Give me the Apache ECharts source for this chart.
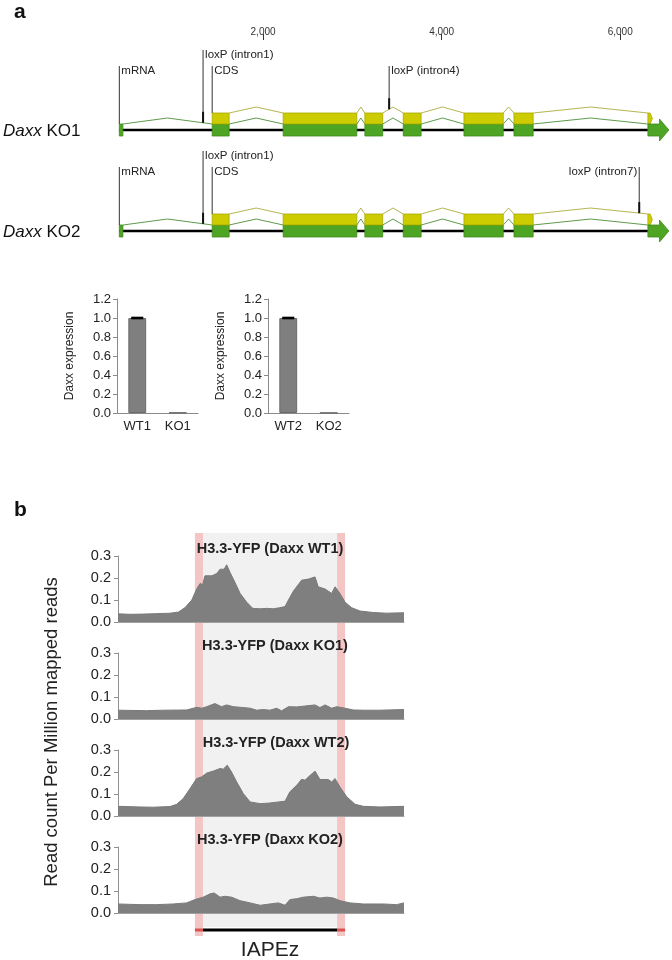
<!DOCTYPE html>
<html>
<head>
<meta charset="utf-8">
<title>Daxx KO</title>
<script src="https://cdn.jsdelivr.net/npm/echarts@6/dist/echarts.min.js"></script>
<style>
  html, body { margin: 0; padding: 0; background: #fff; }
  #main { width: 672px; height: 960px; }
</style>
</head>
<body>
<div id="main"></div>
<script>
// ---- panel a: gene model (bp) ----
var geneTicks = [2000, 4000, 6000];
var mrnaExons = [[390, 430], [1430, 1620], [2225, 3050], [3140, 3340], [3570, 3770], [4250, 4690], [4810, 5025]];
var cdsExons = [[1430, 1620], [2225, 3050], [3140, 3340], [3570, 3770], [4250, 4690], [4810, 5025]];
var mrnaArrow = [6310, 6440, 6545];
var cdsArrow = [6310, 6360];
var geneTracks = ['KO1', 'KO2'];
// [label, position bp, label row]
var ko1Markers = [['mRNA', 390, 1], ['loxP (intron1)', 1328, 0], ['CDS', 1430, 1], ['loxP (intron4)', 3412, 1]];
var ko2Markers = [['mRNA', 390, 1], ['loxP (intron1)', 1328, 0], ['CDS', 1430, 1], ['loxP (intron7)', 6213, 1]];

// ---- panel a: qPCR ----
var qpcrCats = [['WT1', 'KO1'], ['WT2', 'KO2']];
var qpcrValues = [[1.0, 0.004], [1.0, 0.002]];
var qpcrErrors = [[0.006, 0], [0.006, 0]];

// ---- panel b: H3.3-YFP profiles over IAPEz (position in bins 0-100, RPM) ----
var chipTitles = ['H3.3-YFP (Daxx WT1)', 'H3.3-YFP (Daxx KO1)', 'H3.3-YFP (Daxx WT2)', 'H3.3-YFP (Daxx KO2)'];
var wt1 = [[0,0.037],[4.2,0.035],[8.9,0.036],[13.5,0.038],[18.2,0.040],[21.1,0.045],[23.4,0.065],[25.8,0.100],[27.5,0.150],[28.7,0.175],[29.6,0.170],[30.4,0.210],[32.8,0.210],[34.5,0.220],[35.7,0.240],[37.1,0.240],[38.0,0.260],[39.2,0.225],[40.9,0.180],[42.7,0.130],[45.0,0.090],[47.1,0.062],[49.7,0.060],[52.0,0.062],[54.3,0.060],[56.6,0.065],[58.4,0.070],[59.6,0.100],[61.3,0.140],[64.2,0.190],[66.6,0.195],[68.9,0.205],[70.0,0.160],[72.4,0.150],[74.7,0.130],[75.9,0.160],[77.6,0.130],[79.4,0.090],[81.7,0.065],[84.6,0.050],[89.3,0.043],[93.9,0.040],[100,0.042]];
var ko1 = [[0,0.040],[4.2,0.039],[10.0,0.038],[15.9,0.040],[24.0,0.041],[26.3,0.049],[27.5,0.053],[29.3,0.049],[31.0,0.056],[33.9,0.070],[36.2,0.056],[38.0,0.064],[40.3,0.056],[43.8,0.052],[46.2,0.049],[48.5,0.040],[50.8,0.043],[53.1,0.040],[55.5,0.049],[57.2,0.037],[59.6,0.056],[62.5,0.055],[65.4,0.059],[68.9,0.064],[70.6,0.052],[72.4,0.064],[74.7,0.049],[76.5,0.056],[79.4,0.049],[82.3,0.041],[85.8,0.040],[91.6,0.040],[100,0.043]];
var wt2 = [[0,0.044],[7.7,0.041],[12.4,0.040],[18.2,0.043],[20.5,0.053],[22.8,0.079],[25.2,0.125],[27.5,0.170],[29.3,0.178],[31.0,0.195],[33.3,0.204],[35.7,0.216],[36.8,0.213],[38.2,0.231],[39.7,0.200],[41.5,0.155],[43.8,0.102],[46.2,0.064],[49.7,0.056],[53.1,0.059],[56.1,0.064],[58.4,0.067],[60.1,0.110],[62.5,0.140],[64.2,0.167],[65.4,0.163],[66.6,0.178],[68.9,0.204],[70.6,0.166],[73.5,0.166],[74.7,0.155],[75.9,0.170],[77.6,0.132],[80.0,0.087],[82.9,0.053],[85.8,0.044],[91.6,0.041],[100,0.044]];
var ko2 = [[0,0.041],[7.7,0.038],[13.5,0.038],[19.3,0.041],[24.0,0.046],[26.9,0.061],[29.8,0.072],[32.2,0.087],[33.6,0.091],[35.7,0.072],[37.4,0.076],[39.7,0.072],[42.7,0.056],[46.2,0.046],[49.7,0.035],[53.1,0.041],[56.1,0.046],[58.4,0.035],[60.1,0.061],[62.5,0.065],[64.8,0.072],[68.3,0.076],[70.6,0.068],[73.0,0.072],[75.3,0.068],[77.6,0.056],[81.1,0.046],[85.8,0.041],[92.8,0.041],[97.4,0.038],[100,0.046]];
var chipData = [wt1, ko1, wt2, ko2];
var ltrs = [[26.9, 29.7], [76.6, 79.4]];
var iapez = [29.7, 76.6];

var FONT = '"Liberation Sans", Arial, sans-serif';
var YELLOW = '#cccc00', YELLOW_LINE = '#b5b552';
var GREEN = '#4ea523', GREEN_LINE = '#5e9b4c';
var TRACK_OFF = 101;

function chevronY(list, endStart, base, depth, x) {
  var pts = list.concat([[endStart, endStart]]);
  for (var i = 0; i < pts.length - 1; i++) {
    var a = pts[i][1], b = pts[i + 1][0];
    if (x >= a && x <= b) {
      var m = (a + b) / 2, h = (b - a) / 2;
      return base - depth * (1 - Math.abs(x - m) / h);
    }
  }
  return base;
}

var chart = echarts.init(document.getElementById('main'));

// build gene series data
var exonData = [], intronData = [], markerData = [];
geneTracks.forEach(function (t, ti) {
  mrnaExons.forEach(function (e) { exonData.push([e[0], e[1], ti, 0]); });
  cdsExons.forEach(function (e) { exonData.push([e[0], e[1], ti, 1]); });
  var m = mrnaExons.concat([[mrnaArrow[0], mrnaArrow[0]]]);
  for (var i = 0; i < m.length - 1; i++) intronData.push([m[i][1], m[i + 1][0], ti, 0]);
  var c = cdsExons.concat([[cdsArrow[0], cdsArrow[0]]]);
  for (var j = 0; j < c.length - 1; j++) intronData.push([c[j][1], c[j + 1][0], ti, 1]);
  (ti === 0 ? ko1Markers : ko2Markers).forEach(function (mk) {
    markerData.push({ value: [mk[1], ti, mk[2]], name: mk[0] });
  });
});

var grids = [
  { left: 84.5, right: 0, top: 0, height: 250 },            // 0 gene
  { left: 117, width: 81, top: 299, height: 114 },          // 1 qpcr 1
  { left: 268, width: 81, top: 299, height: 114 },          // 2 qpcr 2
  { left: 118, width: 286, top: 533, height: 420 }          // 3 chip background
];
var chipTops = [556, 653, 750, 847];
chipTops.forEach(function (t) { grids.push({ left: 118, width: 286, top: t, height: 66 }); });

var xAxes = [
  {
    gridIndex: 0, type: 'value', min: 0, max: 6580, interval: 2000, position: 'top', offset: -40,
    axisLine: { show: false }, splitLine: { show: false },
    axisTick: { show: true, length: 6, customValues: geneTicks, lineStyle: { color: '#333' } },
    axisLabel: { customValues: geneTicks, fontSize: 10, color: '#333', margin: 3,
      formatter: function (v) { return v.toLocaleString('en-US'); } }
  }
];
var yAxes = [{ gridIndex: 0, type: 'value', min: 0, max: 250, inverse: true, show: false }];

[0, 1].forEach(function (k) {
  xAxes.push({
    gridIndex: 1 + k, type: 'category', data: qpcrCats[k],
    axisLine: { lineStyle: { color: '#8a8a8a' } },
    axisTick: { length: 4, lineStyle: { color: '#8a8a8a' } },
    axisLabel: { fontSize: 13, color: '#222', margin: 7 }
  });
  yAxes.push({
    gridIndex: 1 + k, type: 'value', min: 0, max: 1.2, interval: 0.2,
    name: 'Daxx expression', nameLocation: 'middle', nameGap: 41,
    nameTextStyle: { fontSize: 12, color: '#222' },
    axisLine: { show: true, lineStyle: { color: '#8a8a8a' } },
    axisTick: { show: true, length: 4, lineStyle: { color: '#8a8a8a' } },
    splitLine: { show: false },
    axisLabel: { fontSize: 13, color: '#222', margin: 6, formatter: function (v) { return v.toFixed(1); } }
  });
});

xAxes.push({ gridIndex: 3, type: 'value', min: 0, max: 100, show: false });
yAxes.push({ gridIndex: 3, type: 'value', min: 0, max: 420, inverse: true, show: false });

chipTops.forEach(function (t, i) {
  xAxes.push({
    gridIndex: 4 + i, type: 'value', min: 0, max: 100,
    axisLine: { show: true, lineStyle: { color: '#a0a0a0' } },
    axisTick: { show: false }, axisLabel: { show: false }, splitLine: { show: false }
  });
  yAxes.push({
    gridIndex: 4 + i, type: 'value', min: 0, max: 0.3, interval: 0.1,
    axisLine: { show: true, lineStyle: { color: '#909090' } },
    axisTick: { show: true, length: 4, lineStyle: { color: '#909090' } },
    splitLine: { show: false },
    axisLabel: { fontSize: 14.5, color: '#222', margin: 7, formatter: function (v) { return v.toFixed(1); } }
  });
});

var series = [];

// backbone line
series.push({
  type: 'custom', xAxisIndex: 0, yAxisIndex: 0, z: 1, silent: true,
  data: geneTracks.map(function (t, i) { return [mrnaExons[0][0], mrnaArrow[0], i]; }),
  renderItem: function (params, api) {
    var off = api.value(2) * TRACK_OFF;
    var p0 = api.coord([api.value(0), 130 + off]), p1 = api.coord([api.value(1), 130 + off]);
    return { type: 'line', shape: { x1: p0[0], y1: p0[1], x2: p1[0], y2: p1[1] },
      style: { stroke: '#000', lineWidth: 2.5 } };
  }
});

// intron chevrons
series.push({
  type: 'custom', xAxisIndex: 0, yAxisIndex: 0, z: 2, silent: true, data: intronData,
  renderItem: function (params, api) {
    var off = api.value(2) * TRACK_OFF, cds = api.value(3) === 1;
    var base = (cds ? 113 : 124) + off, peak = base - 6;
    var a = api.value(0), b = api.value(1);
    var p0 = api.coord([a, base]), pm = api.coord([(a + b) / 2, peak]), p1 = api.coord([b, base]);
    return { type: 'polyline', shape: { points: [p0, pm, p1] },
      style: { stroke: cds ? YELLOW_LINE : GREEN_LINE, lineWidth: 1, fill: null } };
  }
});

// exons
series.push({
  type: 'custom', xAxisIndex: 0, yAxisIndex: 0, z: 3, silent: true, data: exonData,
  renderItem: function (params, api) {
    var off = api.value(2) * TRACK_OFF, cds = api.value(3) === 1;
    var top = (cds ? 113 : 124) + off, bot = (cds ? 124 : 136) + off;
    var p0 = api.coord([api.value(0), top]), p1 = api.coord([api.value(1), bot]);
    return { type: 'rect', shape: { x: p0[0], y: p0[1], width: p1[0] - p0[0], height: p1[1] - p0[1] },
      style: { fill: cds ? YELLOW : GREEN, stroke: cds ? '#a9a900' : '#3f8a1c', lineWidth: 0.8 } };
  }
});

// 3' arrows
series.push({
  type: 'custom', xAxisIndex: 0, yAxisIndex: 0, z: 3, silent: true,
  data: geneTracks.map(function (t, i) { return [i]; }),
  renderItem: function (params, api) {
    var off = api.value(0) * TRACK_OFF;
    var c = function (x, y) { return api.coord([x, y + off]); };
    var mid = (cdsArrow[0] + cdsArrow[1]) / 2;
    return { type: 'group', children: [
      { type: 'polygon', shape: { points: [c(cdsArrow[0], 113), c(mid, 113), c(cdsArrow[1], 118.5), c(mid, 124), c(cdsArrow[0], 124)] },
        style: { fill: YELLOW, stroke: '#a9a900', lineWidth: 0.8 } },
      { type: 'polygon', shape: { points: [c(mrnaArrow[0], 124), c(mrnaArrow[1], 124), c(mrnaArrow[1], 119), c(mrnaArrow[2], 130),
          c(mrnaArrow[1], 141), c(mrnaArrow[1], 136), c(mrnaArrow[0], 136)] },
        style: { fill: GREEN, stroke: '#3f8a1c', lineWidth: 0.8 } }
    ] };
  }
});

// marker lines and labels
series.push({
  type: 'custom', xAxisIndex: 0, yAxisIndex: 0, z: 4, silent: true, data: markerData,
  renderItem: function (params, api) {
    var pos = api.value(0), off = api.value(1) * TRACK_OFF, row = api.value(2);
    var name = markerData[params.dataIndex].name;
    var top = (row === 0 ? 50 : 66) + off;
    var bottom, thick = false;
    if (name === 'mRNA') bottom = 124;
    else if (name === 'CDS') bottom = 113;
    else {
      thick = true;
      bottom = pos < cdsExons[0][0]
        ? chevronY(mrnaExons, mrnaArrow[0], 124, 6, pos)
        : chevronY(cdsExons, cdsArrow[0], 113, 6, pos);
    }
    bottom += off;
    var pt = api.coord([pos, top]), pb = api.coord([pos, bottom]);
    var right = pos > 6000;
    var kids = [
      { type: 'line', shape: { x1: pt[0], y1: pt[1], x2: pb[0], y2: pb[1] }, style: { stroke: '#333', lineWidth: 1 } },
      { type: 'text', x: pt[0] + (right ? -2 : 2), y: pt[1] - 1,
        style: { text: name, fontSize: 11.5, fontFamily: FONT, fill: '#222', align: right ? 'right' : 'left', verticalAlign: 'top' } }
    ];
    if (thick) kids.push({ type: 'line', shape: { x1: pb[0], y1: pb[1] - 11, x2: pb[0], y2: pb[1] }, style: { stroke: '#111', lineWidth: 2 } });
    return { type: 'group', children: kids };
  }
});

// qPCR bars + error bars
[0, 1].forEach(function (k) {
  series.push({
    type: 'bar', xAxisIndex: 1 + k, yAxisIndex: 1 + k, data: qpcrValues[k], barWidth: '44%',
    itemStyle: { color: '#7f7f7f', borderColor: '#6a6a6a', borderWidth: 1 }
  });
  series.push({
    type: 'custom', xAxisIndex: 1 + k, yAxisIndex: 1 + k, z: 5, silent: true,
    data: qpcrValues[k].map(function (v, i) { return [i, v - qpcrErrors[k][i], v + qpcrErrors[k][i]]; })
      .filter(function (d) { return d[2] > d[1]; }),
    renderItem: function (params, api) {
      var lo = api.coord([api.value(0), api.value(1)]), hi = api.coord([api.value(0), api.value(2)]);
      var w = 6;
      return { type: 'group', children: [
        { type: 'line', shape: { x1: lo[0], y1: lo[1], x2: hi[0], y2: hi[1] }, style: { stroke: '#000', lineWidth: 1.2 } },
        { type: 'line', shape: { x1: hi[0] - w, y1: hi[1], x2: hi[0] + w, y2: hi[1] }, style: { stroke: '#000', lineWidth: 1.5 } },
        { type: 'line', shape: { x1: lo[0] - w, y1: lo[1], x2: lo[0] + w, y2: lo[1] }, style: { stroke: '#000', lineWidth: 1.5 } }
      ] };
    }
  });
});

// IAPEz background bands + annotation bar
var bandData = [[iapez[0], iapez[1], 0]].concat(ltrs.map(function (l) { return [l[0], l[1], 1]; }));
series.push({
  type: 'custom', xAxisIndex: 3, yAxisIndex: 3, z: 0, silent: true, data: bandData,
  renderItem: function (params, api) {
    var ltr = api.value(2) === 1;
    var p0 = api.coord([api.value(0), 0]), p1 = api.coord([api.value(1), ltr ? 403 : 394]);
    return { type: 'rect', shape: { x: p0[0], y: p0[1], width: p1[0] - p0[0], height: p1[1] - p0[1] },
      style: { fill: ltr ? '#f3c5c5' : '#f1f1f1' } };
  }
});
series.push({
  type: 'custom', xAxisIndex: 3, yAxisIndex: 3, z: 1, silent: true, data: bandData,
  renderItem: function (params, api) {
    var ltr = api.value(2) === 1;
    var p0 = api.coord([api.value(0), 397]), p1 = api.coord([api.value(1), 397]);
    var kids = [{ type: 'line', shape: { x1: p0[0], y1: p0[1], x2: p1[0], y2: p1[1] },
      style: { stroke: ltr ? '#d9534f' : '#000', lineWidth: 3 } }];
    if (!ltr) {
      var pc = api.coord([(api.value(0) + api.value(1)) / 2, 417]);
      kids.push({ type: 'text', x: pc[0], y: pc[1],
        style: { text: 'IAPEz', fontSize: 21, fontFamily: FONT, fill: '#222', align: 'center', verticalAlign: 'middle' } });
    }
    return { type: 'group', children: kids };
  }
});

// profiles
chipData.forEach(function (d, i) {
  series.push({
    type: 'line', xAxisIndex: 4 + i, yAxisIndex: 4 + i, data: d, showSymbol: false, symbol: 'none', z: 3,
    lineStyle: { color: '#7a7a7a', width: 1 },
    areaStyle: { color: '#7f7f7f', opacity: 1 }
  });
});

var titleX = [270, 275, 276, 270];
var graphics = [
  { type: 'text', x: 14, y: 12, style: { text: 'a', fontSize: 21, fontWeight: 'bold', fontFamily: FONT, fill: '#111', verticalAlign: 'middle' } },
  { type: 'text', x: 14, y: 510, style: { text: 'b', fontSize: 21, fontWeight: 'bold', fontFamily: FONT, fill: '#111', verticalAlign: 'middle' } },
  { type: 'text', x: 52, y: 732, rotation: Math.PI / 2,
    style: { text: 'Read count Per Million mapped reads', fontSize: 18.5, fontFamily: FONT, fill: '#222', align: 'center', verticalAlign: 'middle' } }
];
geneTracks.forEach(function (t, i) {
  graphics.push({ type: 'text', x: 3, y: 131 + i * TRACK_OFF,
    style: { text: '{i|Daxx} ' + t, fontSize: 17, fontFamily: FONT, fill: '#111', verticalAlign: 'middle',
      rich: { i: { fontStyle: 'italic', fontSize: 17, fontFamily: FONT, fill: '#111' } } } });
});
chipTitles.forEach(function (t, i) {
  graphics.push({ type: 'text', x: titleX[i], y: chipTops[i] - 7, z: 10,
    style: { text: t, fontSize: 14.5, fontWeight: 'bold', fontFamily: FONT, fill: '#222', align: 'center', verticalAlign: 'middle' } });
});

chart.setOption({
  animation: false,
  backgroundColor: '#fff',
  textStyle: { fontFamily: FONT },
  grid: grids,
  xAxis: xAxes,
  yAxis: yAxes,
  series: series,
  graphic: graphics
});
</script>
</body>
</html>
